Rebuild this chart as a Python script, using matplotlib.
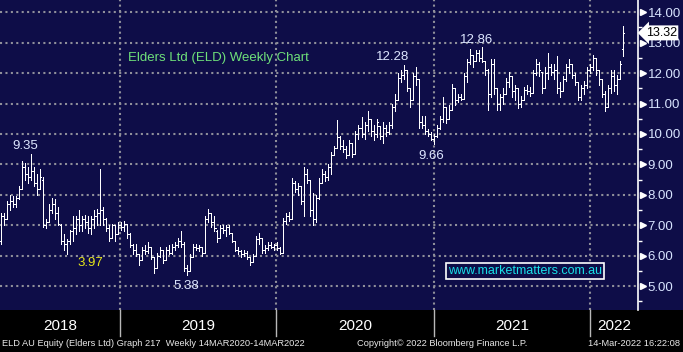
import matplotlib
matplotlib.use("Agg")
import matplotlib.pyplot as plt
import matplotlib.transforms as mtransforms
from matplotlib.patches import Rectangle
from matplotlib.ticker import MultipleLocator, FormatStrFormatter
import pandas as pd

# weekly OHLC for ELD AU (first bar ~end Mar 2018, last week of 14-Mar-2022)
low = [6.4, 7.0, 7.2, 7.5, 7.6, 7.6, 7.85, 8.2, 8.5, 8.4,
       8.5, 8.3, 8.0, 8.2, 6.95, 6.9, 7.1, 7.4, 7.2, 7.0,
       6.4, 6.2, 6.05, 6.4, 6.5, 6.7, 6.8, 6.8, 6.9, 6.75,
       6.7, 6.9, 7.0, 7.0, 7.0, 6.8, 6.5, 6.6, 6.5, 6.7,
       6.85, 6.8, 6.6, 6.3, 6.05, 6.0, 5.7, 5.85, 6.05, 6.1,
       5.9, 5.45, 5.6, 5.95, 5.75, 5.85, 6.05, 6.05, 6.2, 6.3,
       6.3, 5.5, 5.38, 5.5, 5.95, 6.2, 6.15, 6.0, 6.1, 7.1,
       6.95, 6.8, 6.45, 6.6, 6.75, 6.65, 6.7, 6.45, 6.15, 6.05,
       5.95, 6.0, 5.9, 5.7, 5.8, 6.0, 6.4, 6.1, 6.1, 6.2,
       6.25, 6.2, 6.2, 6.05, 6.1, 7.05, 7.15, 7.2, 8.1, 8.0,
       7.7, 7.3, 8.4, 7.3, 7.0, 7.1, 7.85, 8.4, 8.45, 8.5,
       8.7, 9.3, 9.55, 9.5, 9.4, 9.2, 9.3, 9.25, 9.35, 9.85,
       9.9, 9.85, 10.1, 9.95, 9.8, 9.9, 9.85, 9.7, 9.95, 10.0,
       10.2, 10.75, 11.1, 11.7, 11.8, 11.4, 10.9, 11.1, 11.6, 10.2,
       10.2, 10.0, 9.95, 9.8, 9.66, 9.9, 10.15, 10.4, 10.35, 10.5,
       10.8, 10.95, 11.05, 11.1, 11.15, 11.7, 12.3, 12.2, 12.4, 12.4,
       12.35, 11.95, 10.8, 11.2, 11.3, 10.8, 10.8, 11.0, 11.3, 11.55,
       11.2, 11.1, 10.85, 10.9, 11.1, 11.3, 11.25, 11.35, 11.95, 11.9,
       11.35, 11.5, 11.8, 11.95, 11.8, 11.35, 11.2, 11.4, 11.75, 12.0,
       11.85, 11.6, 11.1, 11.1, 11.3, 11.5, 12.0, 12.1, 11.95, 11.6,
       11.2, 10.75, 10.9, 11.35, 11.4, 11.3, 11.8, 12.55]

high = [7.4, 7.4, 7.8, 8.0, 7.95, 7.95, 8.3, 9.1, 9.05, 8.9,
        9.35, 8.9, 8.7, 8.85, 8.6, 7.2, 7.7, 7.9, 7.85, 7.6,
        7.05, 6.7, 6.55, 6.85, 7.3, 7.3, 7.5, 7.3, 7.35, 7.3,
        7.3, 7.5, 7.55, 8.85, 7.6, 7.25, 7.0, 7.05, 7.0, 7.1,
        7.1, 7.15, 7.05, 6.75, 6.4, 6.4, 6.05, 6.3, 6.35, 6.45,
        6.3, 5.95, 6.1, 6.3, 6.2, 6.3, 6.35, 6.4, 6.45, 6.6,
        6.8, 6.45, 5.7, 6.05, 6.4, 6.4, 6.35, 6.3, 7.3, 7.55,
        7.4, 7.3, 6.85, 7.0, 7.0, 7.0, 7.0, 6.75, 6.5, 6.3,
        6.2, 6.2, 6.15, 5.95, 6.05, 6.65, 6.75, 6.6, 6.35, 6.45,
        6.45, 6.4, 6.45, 6.3, 7.25, 7.4, 7.45, 8.55, 8.45, 8.4,
        8.3, 8.9, 8.85, 8.5, 8.05, 8.0, 8.55, 8.85, 8.8, 9.0,
        9.4, 9.6, 10.45, 9.95, 9.8, 9.6, 9.8, 9.7, 10.1, 10.3,
        10.55, 10.4, 10.75, 10.5, 10.3, 10.5, 10.25, 10.4, 10.3, 10.4,
        11.0, 11.3, 12.0, 12.1, 12.28, 12.1, 11.5, 12.0, 12.2, 11.8,
        10.6, 10.6, 10.15, 10.05, 10.0, 10.3, 10.6, 11.2, 10.9, 10.95,
        11.65, 11.5, 11.3, 11.3, 12.0, 12.45, 12.8, 12.6, 12.75, 12.75,
        12.86, 12.4, 12.15, 12.45, 12.45, 11.5, 11.3, 11.5, 11.85, 12.05,
        11.9, 11.6, 11.5, 11.25, 11.55, 11.6, 11.55, 12.1, 12.45, 12.35,
        12.05, 12.2, 12.65, 12.3, 12.3, 12.55, 11.7, 11.9, 12.3, 12.45,
        12.3, 12.0, 11.7, 11.6, 11.75, 12.2, 12.3, 12.6, 12.5, 12.1,
        11.8, 11.4, 11.6, 12.1, 12.1, 11.95, 12.4, 13.55]

opens = [6.5, 7.3, 7.2, 7.7, 7.8, 7.7, 7.9, 8.2, 8.9, 8.7,
         8.6, 8.8, 8.4, 8.2, 8.5, 7.0, 7.1, 7.5, 7.7, 7.4,
         7.0, 6.5, 6.4, 6.5, 6.8, 6.9, 7.2, 7.0, 7.2, 7.1,
         6.9, 7.2, 7.3, 7.4, 7.5, 7.2, 6.9, 6.6, 7.0, 6.7,
         7.0, 6.95, 7.05, 6.7, 6.35, 6.2, 6.05, 5.85, 6.2, 6.15,
         6.3, 5.95, 5.6, 6.0, 6.2, 5.85, 6.2, 6.1, 6.3, 6.35,
         6.5, 6.4, 5.6, 5.5, 5.95, 6.3, 6.25, 6.3, 6.1, 7.2,
         7.4, 7.1, 6.8, 6.6, 6.9, 6.85, 6.95, 6.75, 6.5, 6.2,
         6.15, 6.05, 6.1, 5.95, 5.8, 6.0, 6.55, 6.6, 6.2, 6.25,
         6.35, 6.3, 6.35, 6.25, 6.1, 7.15, 7.3, 7.2, 8.4, 8.2,
         8.3, 7.8, 8.7, 8.5, 7.5, 7.2, 7.9, 8.4, 8.7, 8.6,
         8.9, 9.3, 9.55, 9.9, 9.6, 9.5, 9.3, 9.7, 9.35, 10.0,
         10.2, 10.0, 10.3, 10.5, 10.1, 10.0, 10.25, 9.95, 10.2, 10.05,
         10.3, 10.9, 11.1, 11.85, 11.95, 12.1, 11.5, 11.1, 11.9, 11.8,
         10.4, 10.3, 10.1, 10.0, 9.85, 9.95, 10.2, 10.5, 10.9, 10.5,
         10.8, 11.5, 11.1, 11.2, 11.15, 11.9, 12.35, 12.6, 12.4, 12.65,
         12.5, 12.4, 12.1, 11.3, 12.3, 11.5, 11.0, 11.2, 11.3, 11.7,
         11.9, 11.4, 11.5, 11.0, 11.1, 11.45, 11.4, 11.35, 12.0, 12.3,
         12.05, 11.5, 12.0, 12.2, 12.05, 12.1, 11.5, 11.4, 11.8, 12.2,
         12.3, 11.95, 11.7, 11.2, 11.5, 11.6, 12.1, 12.2, 12.5, 12.1,
         11.8, 11.3, 10.9, 11.5, 11.9, 11.6, 11.8, 12.8]

close = [7.3, 7.2, 7.7, 7.8, 7.7, 7.9, 8.2, 8.9, 8.7, 8.6,
         8.8, 8.4, 8.2, 8.6, 7.0, 7.1, 7.5, 7.7, 7.4, 7.05,
         6.5, 6.4, 6.5, 6.8, 6.9, 7.2, 7.0, 7.2, 7.1, 6.9,
         7.2, 7.3, 7.4, 7.5, 7.2, 6.9, 6.6, 7.0, 6.7, 7.0,
         6.95, 7.05, 6.7, 6.35, 6.2, 6.05, 5.85, 6.2, 6.15, 6.3,
         5.95, 5.6, 6.0, 6.2, 5.85, 6.2, 6.1, 6.3, 6.35, 6.5,
         6.4, 5.6, 5.5, 5.95, 6.3, 6.25, 6.3, 6.1, 7.2, 7.4,
         7.1, 6.9, 6.6, 6.9, 6.85, 6.95, 6.75, 6.5, 6.2, 6.15,
         6.05, 6.1, 5.95, 5.8, 6.0, 6.55, 6.6, 6.2, 6.25, 6.35,
         6.3, 6.35, 6.25, 6.1, 7.15, 7.3, 7.2, 8.4, 8.2, 8.3,
         7.8, 8.7, 8.5, 7.5, 7.2, 7.9, 8.4, 8.7, 8.6, 8.9,
         9.3, 9.55, 9.9, 9.6, 9.5, 9.3, 9.7, 9.35, 10.0, 10.2,
         10.0, 10.3, 10.5, 10.1, 10.0, 10.4, 9.95, 10.2, 10.05, 10.3,
         10.9, 11.1, 11.85, 11.95, 12.1, 11.5, 11.1, 11.9, 11.8, 10.4,
         10.3, 10.1, 10.0, 9.85, 9.95, 10.2, 10.5, 10.9, 10.5, 10.8,
         11.5, 11.1, 11.2, 11.15, 11.9, 12.35, 12.6, 12.4, 12.65, 12.5,
         12.4, 12.1, 11.3, 12.3, 11.5, 11.0, 11.2, 11.3, 11.7, 11.9,
         11.4, 11.5, 11.0, 11.1, 11.45, 11.4, 11.35, 12.0, 12.3, 12.1,
         11.5, 12.0, 12.2, 12.05, 12.1, 11.5, 11.4, 11.8, 12.2, 12.3,
         11.95, 11.7, 11.2, 11.5, 11.6, 12.1, 12.2, 12.5, 12.1, 11.8,
         11.3, 10.9, 11.5, 11.9, 11.6, 11.8, 12.3, 13.32]

dates = pd.date_range(end="2022-03-18", periods=len(close), freq="W-FRI")
years = ["2018", "2019", "2020", "2021", "2022"]

# labelled extremes: (bar index, text, which end of bar, x offset pts)
callouts = [(10, "9.35", "high", -4),
            (62, "5.38", "low", -1),
            (134, "12.28", "high", -8),
            (144, "9.66", "low", -2),
            (160, "12.86", "high", -4)]

NAVY = "#0e0d48"
GRID = "#8f8f9a"
LABEL = "#d8e4ff"
lab_font = ["Liberation Sans", "DejaVu Sans"]
narrow = ["Liberation Sans Narrow", "Liberation Sans", "DejaVu Sans"]

fig = plt.figure(figsize=(6.83, 3.52), dpi=100, facecolor="black")
fig.patches.append(Rectangle((0, 42 / 352), 1, 310 / 352, transform=fig.transFigure,
                             facecolor=NAVY, edgecolor="none", zorder=-10))
ax = fig.add_axes([0, 42 / 352, 638 / 683, 310 / 352])
ax.set_facecolor(NAVY)

x0 = pd.Timestamp("2018-03-28")
x1 = pd.Timestamp("2022-04-22")
ax.set_xlim(x0, x1)
ax.set_ylim(4.22, 14.4)

# grid
ax.yaxis.set_major_locator(MultipleLocator(1))
ax.yaxis.set_minor_locator(MultipleLocator(0.5))
ax.grid(True, axis="y", which="major", color=GRID, linestyle=(0, (1, 1.6)), lw=1.5)
year_starts = [pd.Timestamp(y + "-01-01") for y in years[1:]]
for ys in year_starts:
    ax.axvline(ys, color=GRID, linestyle=(0, (1, 1.6)), lw=1.5, zorder=0.8)
    # separator in the black band below
    ax.axvline(ys, ymin=-0.085, ymax=0, color="#b8b8b8", lw=1.0, clip_on=False)

# OHLC bars, one pixel wide
tick = pd.Timedelta(days=3)
ax.vlines(dates, low, high, color="white", lw=0.6, zorder=3, antialiased=False)
ax.hlines(opens, dates - tick, dates, color="white", lw=0.6, zorder=3, antialiased=False)
ax.hlines(close, dates, dates + tick, color="white", lw=0.6, zorder=3, antialiased=False)

# axes styling
for s in ["top", "left", "bottom"]:
    ax.spines[s].set_visible(False)
ax.spines["right"].set_color("white")
ax.spines["right"].set_linewidth(1.2)
ax.set_xticks([])
ax.yaxis.tick_right()
ax.yaxis.set_major_formatter(FormatStrFormatter("%.2f"))
ax.tick_params(axis="y", which="major", length=0, pad=7, labelcolor=LABEL, labelsize=9.5)
ax.tick_params(axis="y", which="minor", length=3, width=1, color="white", direction="out")
for t in ax.get_yticklabels():
    t.set_family(lab_font)
trans_r = mtransforms.blended_transform_factory(ax.transAxes, ax.transData)
ax.plot([1.008] * 10, range(5, 15), linestyle="none", marker=">", markersize=4.5,
        color="white", transform=trans_r, clip_on=False, zorder=5)

# last price tag
ax.text(1.012, close[-1], "%.2f" % close[-1], transform=trans_r, ha="left", va="center",
        fontsize=9, color="black", family=lab_font, zorder=10, clip_on=False,
        bbox=dict(boxstyle="larrow,pad=0.12", fc="white", ec="none"))

# callouts
for i, txt, end, dx in callouts:
    if end == "high":
        ax.annotate(txt, (dates[i], high[i]), xytext=(dx, 1), textcoords="offset points",
                    ha="center", va="bottom", color="#dde6ff", fontsize=9.5, family=lab_font)
    else:
        ax.annotate(txt, (dates[i], low[i]), xytext=(dx, -4), textcoords="offset points",
                    ha="center", va="top", color="#dde6ff", fontsize=9.5, family=lab_font)
ax.annotate("3.97", (dates[22], low[22]), xytext=(17, -6), textcoords="offset points",
            ha="center", va="center", color="#e6e619", fontsize=9.5, family=lab_font)

# title and site box
fig.text(128 / 683, 1 - 58 / 352, "Elders Ltd (ELD) Weekly Chart", color="#6fe07a",
         fontsize=9.5, family=lab_font, ha="left", va="center")
fig.text(525 / 683, 1 - 271 / 352, "www.marketmatters.com.au", color="#19e0e8",
         fontsize=9, family=lab_font, ha="center", va="center",
         bbox=dict(boxstyle="square,pad=0.15", fc=NAVY, ec="white", lw=1.2))

# year labels in the black band
trans_b = mtransforms.blended_transform_factory(ax.transData, ax.transAxes)
edges = [x0] + year_starts + [x1]
for k, y in enumerate(years):
    mid = edges[k] + (edges[k + 1] - edges[k]) / 2
    ax.text(mid, -0.052, y, transform=trans_b, ha="center", va="center",
            color="white", fontsize=11, family=narrow, clip_on=False)

# footer
fig.text(2 / 683, 1 - 343 / 352, "ELD AU Equity (Elders Ltd) Graph 217  Weekly 14MAR2020-14MAR2022",
         color="#e8e8e8", fontsize=6.7, family=narrow, ha="left", va="center")
fig.text(357 / 683, 1 - 343 / 352, "Copyright\u00a9 2022 Bloomberg Finance L.P.",
         color="#e8e8e8", fontsize=6.7, family=narrow, ha="left", va="center")
fig.text(680 / 683, 1 - 343 / 352, "14-Mar-2022 16:22:08",
         color="#e8e8e8", fontsize=6.7, family=narrow, ha="right", va="center")

fig.savefig("out.png", dpi=100, facecolor=fig.get_facecolor())
